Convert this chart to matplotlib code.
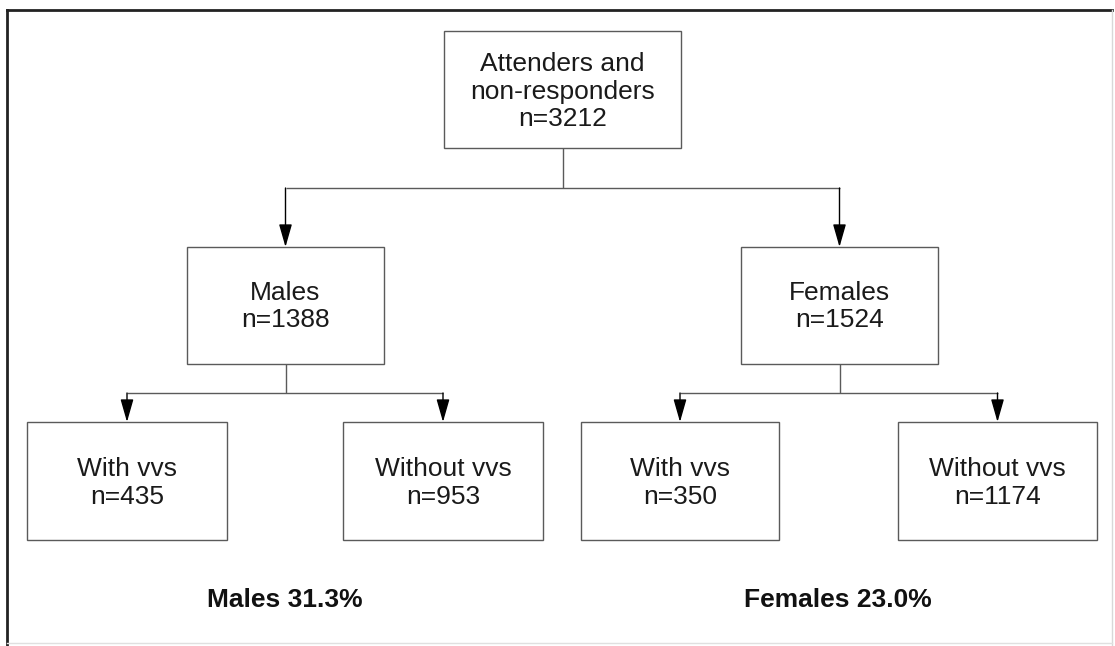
import matplotlib
matplotlib.use("Agg")
import matplotlib.pyplot as plt
from matplotlib.patches import Rectangle, ArrowStyle

# ---- data ----
root_label = "Attenders and\nnon-responders"
root_n = 3212
sex_labels = ["Males", "Females"]
sex_n = [1388, 1524]
leaf_labels = ["With vvs", "Without vvs"]
leaf_n = [[435, 953], [350, 1174]]
prevalence = [31.3, 23.0]

# ---- layout (pixel coordinates, y downward) ----
W, H = 1115, 646
fig = plt.figure(figsize=(W / 100, H / 100), dpi=100)
ax = fig.add_axes([0, 0, 1, 1])
ax.set_xlim(0, W)
ax.set_ylim(H, 0)
ax.axis("off")

plt.rcParams["font.family"] = ["Liberation Sans", "DejaVu Sans"]
BOX_COL = "#5a5a5a"
LINE_COL = "#5a5a5a"
LW = 1.0
FS = 19

def box(x0, x1, y0, y1, text, fs=FS, ls=1.2, dy=1):
    ax.add_patch(Rectangle((x0, y0), x1 - x0, y1 - y0, fill=False,
                           edgecolor=BOX_COL, lw=LW))
    ax.text((x0 + x1) / 2, (y0 + y1) / 2 + dy, text, ha="center", va="center",
            fontsize=fs, linespacing=ls, color="#1a1a1a",
            family=["Liberation Sans", "DejaVu Sans"])

def line(xs, ys):
    ax.plot(xs, ys, color=LINE_COL, lw=LW, solid_capstyle="butt")

arrow_style = ArrowStyle("-|>", head_length=1.4, head_width=0.4)

def arrow(x, y_from, y_to):
    ax.annotate("", xy=(x, y_to), xytext=(x, y_from),
                arrowprops=dict(arrowstyle=arrow_style, mutation_scale=10,
                                color="black", lw=LW, shrinkA=0, shrinkB=0))

# outer frame
ax.plot([7, 7], [H, 10], color="#222222", lw=2.0)
ax.plot([7, 1112], [10, 10], color="#222222", lw=2.0)
ax.plot([1112, 1112], [10, H], color="#d8d8d8", lw=1.0)
ax.plot([7, 1112], [643, 643], color="#e0e0e0", lw=1.0)

# root
rx0, rx1, ry0, ry1 = 444, 681, 31, 148
box(rx0, rx1, ry0, ry1, f"{root_label}\nn={root_n}", ls=1.2, dy=2)
rcx = (rx0 + rx1) / 2

sex_boxes = [(187, 384), (741, 938)]
sex_y = (247, 364)
leaf_boxes = [[(27, 227), (343, 543)], [(581, 779), (898, 1097)]]
leaf_y = (422, 540)
split_y1 = 188
split_y2 = 393
pct_x = [285, 838]
pct_y = 600

sex_cx = [(a + b) / 2 for a, b in sex_boxes]
line([rcx, rcx], [ry1, split_y1])
line([sex_cx[0], sex_cx[1]], [split_y1, split_y1])

for i in range(2):
    cx = sex_cx[i]
    arrow(cx, split_y1, sex_y[0])
    box(sex_boxes[i][0], sex_boxes[i][1], sex_y[0], sex_y[1],
        f"{sex_labels[i]}\nn={sex_n[i]}", ls=1.12)
    line([cx, cx], [sex_y[1], split_y2])
    lcx = [(a + b) / 2 for a, b in leaf_boxes[i]]
    line([lcx[0], lcx[1]], [split_y2, split_y2])
    for j in range(2):
        arrow(lcx[j], split_y2, leaf_y[0])
        box(leaf_boxes[i][j][0], leaf_boxes[i][j][1], leaf_y[0], leaf_y[1],
            f"{leaf_labels[j]}\nn={leaf_n[i][j]}", ls=1.2, dy=2)
    ax.text(pct_x[i], pct_y, f"{sex_labels[i]} {prevalence[i]:.1f}%",
            ha="center", va="center", fontsize=19, fontweight="bold",
            color="#111111", family=["Liberation Sans", "DejaVu Sans"])

fig.savefig("out.png", dpi=100)
